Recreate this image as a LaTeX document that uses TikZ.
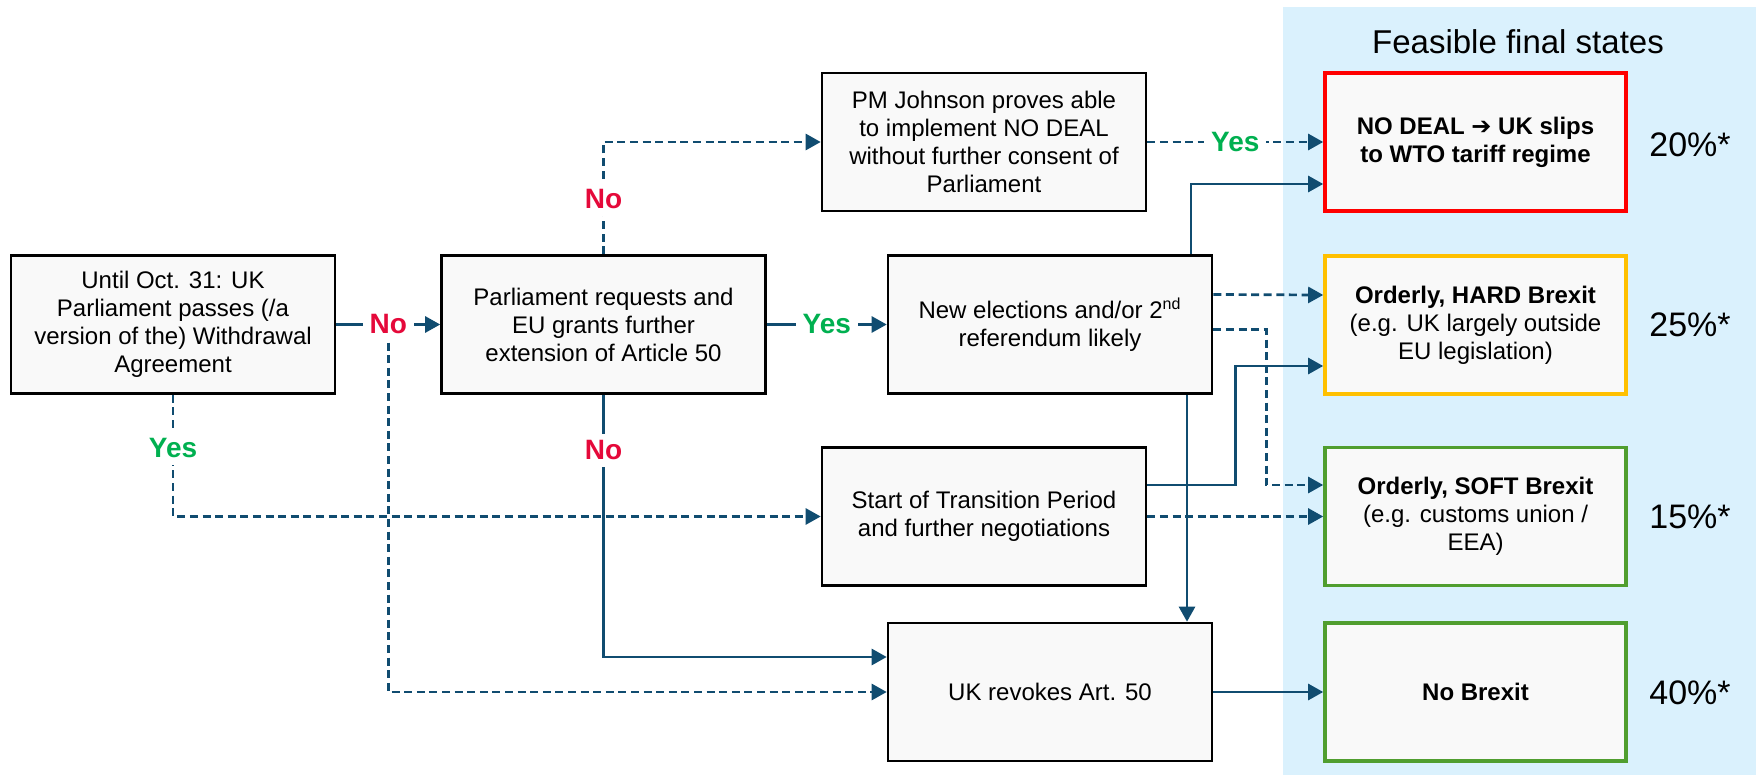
\documentclass[tikz,border=0pt]{standalone}
\usepackage{fontspec}
\setmainfont{Liberation Sans}
\newfontfamily\symfont{DejaVu Sans}
\usetikzlibrary{arrows.meta,calc}
\definecolor{conncol}{HTML}{104C70}
\definecolor{boxfill}{HTML}{F9F9F9}
\definecolor{panelcol}{HTML}{DAF1FD}
\definecolor{nored}{HTML}{E5093A}
\definecolor{yesgreen}{HTML}{00B050}
\definecolor{fred}{HTML}{FF0000}
\definecolor{fyellow}{HTML}{FFC000}
\definecolor{fgreen}{HTML}{509E2F}
\begin{document}
\begin{tikzpicture}[x=0.5pt,y=-0.5pt,
  box/.style={draw=black, line width=1.3pt, fill=boxfill, minimum width=162pt,
    minimum height=69pt, align=center, inner sep=0pt,
    font=\fontsize{12}{14}\selectfont},
  fbox/.style={box, line width=1.8pt, minimum width=150.5pt},
  conn/.style={draw=conncol, line width=1.35pt, -{Triangle[length=7.5pt,width=8pt]}},
  dconn/.style={conn, dash pattern=on 4pt off 2.3pt},
  lab/.style={fill=white, inner sep=3.5pt, font=\fontsize{14}{16}\selectfont\bfseries},
  nolab/.style={lab, text=nored},
  yeslab/.style={lab, text=yesgreen},
  pct/.style={font=\fontsize{17}{20}\selectfont},
]
\useasboundingbox (0,0) rectangle (1756,775);
% panel
\fill[panelcol] (1283,7) rectangle (1756,775);
\node[font=\fontsize{16.5}{19}\selectfont] (title) at (1518,42) {Feasible final states};

% decision boxes
\node[box] (A) at (173,324.5) {Until Oct. 31: UK\\Parliament passes (/a\\version of the) Withdrawal\\Agreement};
\node[box] (B) at (603.5,324.5) {Parliament requests and\\EU grants further\\extension of Article 50};
\node[box] (C) at (984,142) {PM Johnson proves able\\to implement NO DEAL\\without further consent of\\Parliament};
\node[box] (D) at (1050,324.5) {New elections and/or 2\textsuperscript{nd}\\referendum likely};
\node[box] (E) at (984,516.5) {Start of Transition Period\\and further negotiations};
\node[box] (F) at (1050,692) {UK revokes Art. 50};

% final states
\node[fbox, draw=fred] (G1) at (1475.5,142) {\bfseries NO DEAL {\symfont\bfseries ➔} UK slips\\\bfseries to WTO tariff regime};
\node[fbox, draw=fyellow] (G2) at (1475.5,325) {\bfseries Orderly, HARD Brexit\\(e.g. UK largely outside\\EU legislation)};
\node[fbox, draw=fgreen] (G3) at (1475.5,516.5) {\bfseries Orderly, SOFT Brexit\\(e.g. customs union /\\EEA)};
\node[fbox, draw=fgreen] (G4) at (1475.5,692) {\bfseries No Brexit};

\node[pct] (p1) at (1690,145) {20\%*};
\node[pct] (p2) at (1690,325) {25\%*};
\node[pct] (p3) at (1690,517) {15\%*};
\node[pct] (p4) at (1690,693) {40\%*};

% connectors
\draw[conn] (A) -- node[nolab] (noA) {No} (B);
\draw[dconn] (noA.south) |- (F.west);
\draw[dconn] (A.south) |- node[yeslab, pos=0.22] (yesA) {Yes} (E.west);

\draw[conn] (B) -- node[yeslab] (yesB) {Yes} (D);
\draw[dconn] (B.north) |- node[nolab, pos=0.245] (noBup) {No} (C.west);
\draw[conn] (B.south) |- node[nolab, pos=0.106] (noBdn) {No} ($(F.west)+(0,-35)$);

\draw[dconn] (C) -- node[yeslab] (yesC) {Yes} (G1);

\draw[conn] ($(D.north)+(141,0)$) |- ($(G1.west)+(0,42)$);
\draw[dconn] ($(D.east)+(0,-30)$) -- ($(G2.west)+(0,-30)$);
\draw[dconn] ($(D.east)+(0,5)$) -| ($(G3.west)+(-57,-31.5)$) -- ($(G3.west)+(0,-31.5)$);
\draw[conn] ($(D.south)+(137,0)$) -- ($(F.north)+(137,0)$);

\draw[conn] ($(E.east)+(0,-31.5)$) -| ($(G2.west)+(-88,41)$) -- ($(G2.west)+(0,41)$);
\draw[dconn] (E.east) -- (G3.west);

\draw[conn] (F) -- (G4);
\end{tikzpicture}
\end{document}
